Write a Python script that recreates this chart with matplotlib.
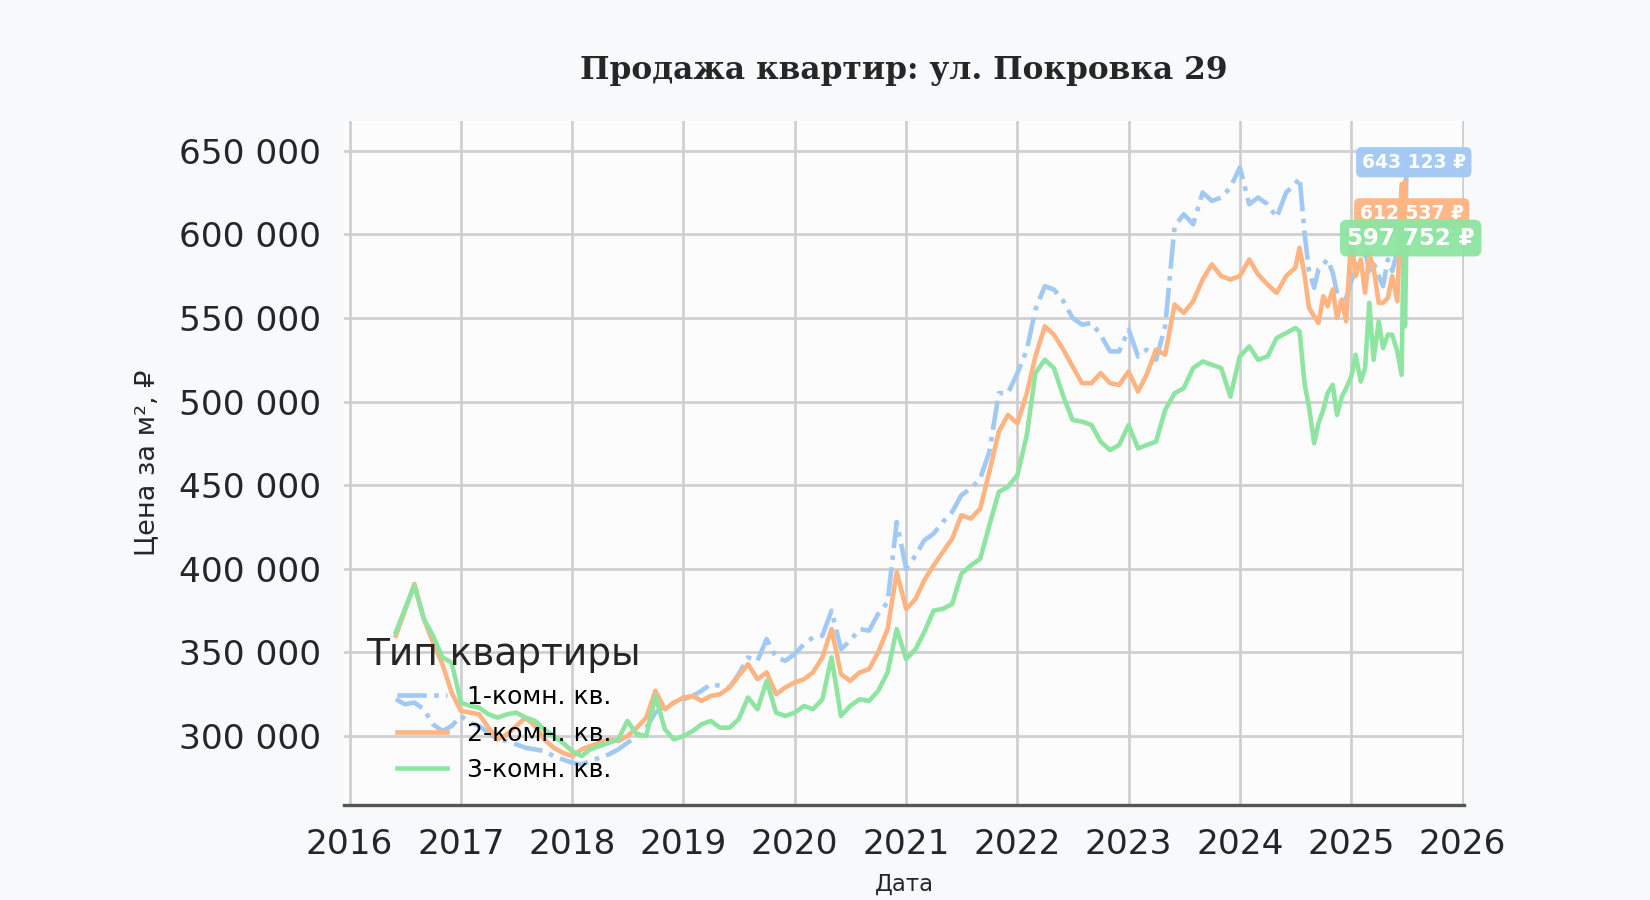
import numpy as np
import pandas as pd
import matplotlib
matplotlib.use("Agg")
import matplotlib.pyplot as plt
import matplotlib.dates as mdates
from matplotlib.ticker import FuncFormatter

plt.rcParams['font.family'] = ['DejaVu Sans', 'Noto Sans']

# даты: помесячно до середины 2024, дальше чаще
dates_monthly = pd.date_range("2016-06-01", "2024-06-01", freq="MS")
dates_tail = ["2024-07-01", "2024-07-15", "2024-08-01", "2024-08-15", "2024-09-01", "2024-09-15",
              "2024-10-01", "2024-10-15", "2024-11-01", "2024-11-15", "2024-12-01", "2024-12-15",
              "2025-01-01", "2025-01-15", "2025-02-01", "2025-02-15", "2025-03-01", "2025-03-15",
              "2025-04-01", "2025-04-15", "2025-05-01", "2025-05-15", "2025-06-01", "2025-06-15",
              "2025-06-22", "2025-06-26", "2025-07-01"]
dates = list(dates_monthly) + list(pd.to_datetime(dates_tail))

# цены, тыс. руб. за м2
price_1k = [322, 319, 320, 316, 307, 303, 306,
            312, 308, 306, 302, 298, 297, 295, 293, 292, 291, 288, 286,
            284, 283, 285, 287, 289, 292, 296, 300, 305, 314, 318, 320,
            322, 324, 327, 331, 330, 329, 337, 347, 345, 358, 347, 345,
            349, 355, 359, 360, 375, 352, 357, 364, 363, 373, 380, 428,
            400, 408, 417, 421, 428, 434, 444, 448, 454, 470, 505, 505,
            517, 531, 555, 569, 567, 560, 550, 546, 547, 540, 530, 530,
            543, 527, 531, 525, 545, 605, 612, 606, 625, 620, 622, 628,
            640, 618, 622, 618, 610, 625,
            630, 634, 600, 578, 568, 579, 582, 585, 577, 565, 557, 562,
            572, 580, 585, 590, 578, 583, 575, 569, 585, 578, 590, 583,
            590, 575, 643.123]
price_2k = [360, 375, 391, 370, 356, 343, 326,
            315, 314, 313, 305, 298, 301, 306, 311, 306, 298, 293, 290,
            288, 292, 294, 296, 298, 297, 300, 305, 311, 327, 316, 320,
            323, 324, 321, 324, 325, 329, 336, 343, 334, 338, 325, 329,
            332, 334, 338, 347, 364, 337, 333, 338, 340, 350, 364, 398,
            376, 382, 393, 402, 410, 418, 432, 430, 436, 458, 482, 492,
            487, 505, 527, 545, 540, 531, 521, 511, 511, 517, 511, 510,
            518, 506, 516, 531, 528, 558, 553, 560, 573, 582, 575, 573,
            575, 585, 576, 570, 565, 575,
            580, 592, 575, 556, 551, 547, 563, 557, 567, 550, 561, 548,
            600, 575, 585, 565, 588, 580, 559, 559, 562, 575, 560, 630,
            570, 632, 612.537]
price_3k = [362, 376, 390, 370, 360, 347, 344,
            320, 318, 317, 313, 311, 313, 314, 311, 309, 304, 300, 296,
            291, 288, 292, 294, 296, 298, 309, 301, 300, 324, 304, 298,
            300, 303, 307, 309, 305, 305, 310, 323, 316, 333, 314, 312,
            314, 318, 316, 322, 347, 312, 318, 322, 321, 327, 338, 364,
            346, 352, 362, 375, 376, 379, 397, 402, 406, 426, 446, 449,
            456, 480, 517, 525, 520, 503, 489, 488, 486, 476, 471, 474,
            486, 472, 474, 476, 495, 505, 508, 520, 524, 522, 520, 503,
            527, 533, 525, 527, 538, 541,
            544, 542, 510, 497, 475, 487, 495, 505, 510, 492, 503, 508,
            515, 528, 512, 520, 559, 525, 548, 532, 540, 540, 530, 516,
            603, 545, 597.752]

labels = ["1-комн. кв.", "2-комн. кв.", "3-комн. кв."]
colors = ["#a1c9f4", "#ffb482", "#8de5a1"]
styles = ["-.", "-", "-"]

fig = plt.figure(figsize=(11, 6), dpi=150, facecolor="#f8f9fb")
ax = fig.add_axes([0.2085, 0.106, 0.679, 0.760])
ax.set_facecolor("#fcfcfc")

series = [price_1k, price_2k, price_3k]
for vals, lab, c, ls in zip(series, labels, colors, styles):
    ax.plot(dates, np.array(vals) * 1000, color=c, lw=2.2, ls=ls, label=lab)

# подписи последних значений
box_fs = [9, 9, 11]
box_dx = [3.5, 2.5, 2]
for vals, c, fs, dx in zip(series, colors, box_fs, box_dx):
    v = round(vals[-1] * 1000)
    ax.annotate(f"{v:,} ₽".replace(",", " "), xy=(dates[-1], v), xytext=(dx, 0),
                textcoords="offset points", ha="center", va="center",
                fontsize=fs, fontweight="bold", color="white",
                bbox=dict(boxstyle="round,pad=0.3", fc=c, ec="none", alpha=0.95))

ax.set_xlim(pd.Timestamp("2015-12-14"), pd.Timestamp("2026-01-07"))
ax.set_ylim(259000, 668000)
ax.xaxis.set_major_locator(mdates.YearLocator())
ax.xaxis.set_major_formatter(mdates.DateFormatter("%Y"))
ax.set_yticks(range(300000, 650001, 50000))
ax.yaxis.set_major_formatter(FuncFormatter(lambda v, p: f"{int(v):,}".replace(",", " ")))

ax.grid(True, color="#cfcfcf", lw=1.3)
ax.set_axisbelow(True)
for s in ["top", "right", "left"]:
    ax.spines[s].set_visible(False)
ax.spines["bottom"].set_color("#555555")
ax.spines["bottom"].set_linewidth(1.6)
ax.tick_params(axis="both", length=0, labelsize=16.5, colors="#262626", pad=11)

ax.set_title("Продажа квартир: ул. Покровка 29", family="DejaVu Serif",
             fontweight="bold", fontsize=15, color="#262626", pad=20)
ax.set_xlabel("Дата", fontsize=11, color="#262626", labelpad=6)
ax.set_ylabel("Цена за м², ₽", fontsize=13, color="#262626", labelpad=9)

leg = ax.legend(title="Тип квартиры", loc="lower left", frameon=False,
                fontsize=12, title_fontsize=18)
leg.get_title().set_color("#262626")

fig.savefig("out.png", dpi=150, facecolor=fig.get_facecolor())
